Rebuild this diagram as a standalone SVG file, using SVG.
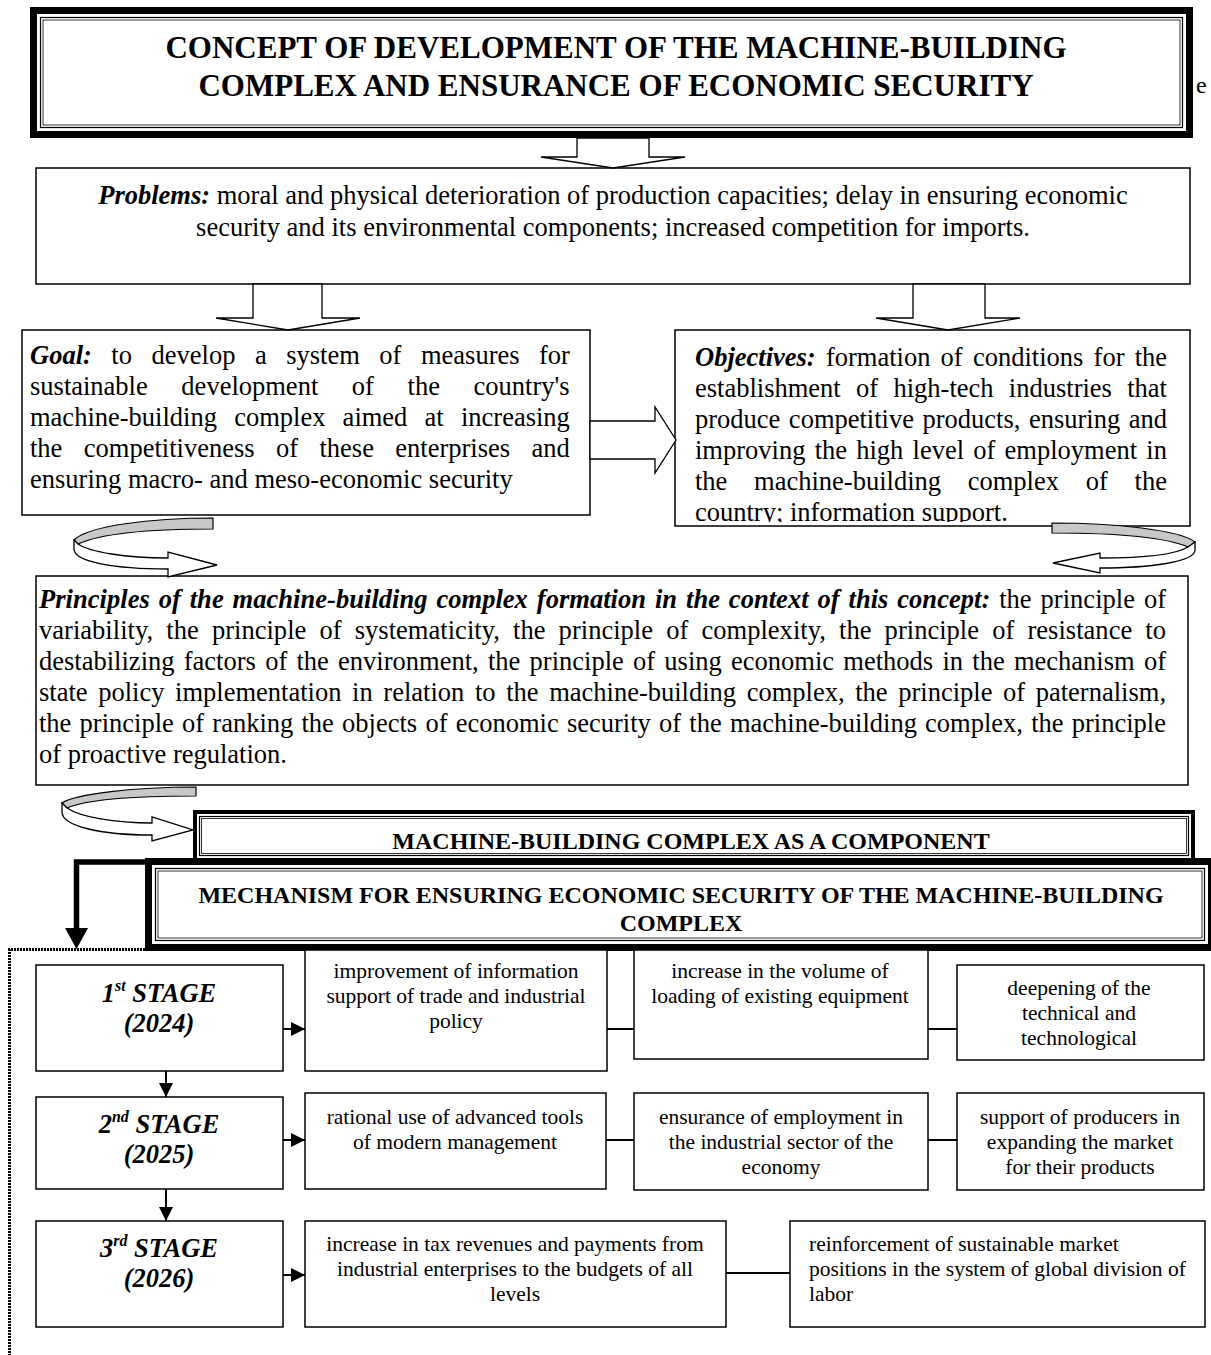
<svg xmlns="http://www.w3.org/2000/svg" width="1211" height="1355" viewBox="0 0 1211 1355">
<style>
text{font-family:"Liberation Serif","Times New Roman",serif;fill:#000}
.body{font-size:26.5px}
.sm{font-size:21.5px}
.bi{font-weight:bold;font-style:italic}
.b{font-weight:bold}
.box{fill:#fff;stroke:#000;stroke-width:1.5}
.blk{fill:#fff;stroke:#000;stroke-width:1.3;stroke-linejoin:miter}
.grey{fill:#c8c8c8;stroke:#000;stroke-width:1.2}
.thin{fill:none;stroke:#000;stroke-width:1.2}
.thin2{fill:none;stroke:#000;stroke-width:0.8}
.ln{stroke:#000;stroke-width:2;fill:none}
.mid{text-anchor:middle}
</style>
<defs>
<marker id="ah" viewBox="0 0 10 10" refX="10" refY="5" markerWidth="14" markerHeight="14" markerUnits="userSpaceOnUse" orient="auto">
<path d="M0,0 L10,5 L0,10 Z" fill="#000"/>
</marker>
<clipPath id="objclip"><rect x="675" y="330" width="515" height="192"/></clipPath>
</defs>

<g id="title">
<rect x="30" y="7" width="1163" height="131" fill="#000"/>
<rect x="37" y="14" width="1149" height="117" fill="#fff"/>
<rect class="thin" x="40.5" y="17.5" width="1142" height="110"/>
<rect class="thin2" x="43" y="20" width="1137" height="105"/>
<text class="b mid" x="616" y="58" font-size="31">CONCEPT OF DEVELOPMENT OF THE MACHINE-BUILDING</text>
<text class="b mid" x="616" y="96" font-size="31">COMPLEX AND ENSURANCE OF ECONOMIC SECURITY</text>
</g>
<text x="1196" y="93" font-size="24">e</text>

<g id="problems">
<rect class="box" x="36" y="168" width="1154" height="116"/>
<text class="body mid" x="613" y="204"><tspan class="bi">Problems:</tspan> moral and physical deterioration of production capacities; delay in ensuring economic</text>
<text class="body mid" x="613" y="236">security and its environmental components; increased competition for imports.</text>
</g>

<g id="goal">
<rect class="box" x="22" y="330" width="568" height="185"/>
<text class="body" x="30" y="364" word-spacing="12.9"><tspan class="bi">Goal:</tspan> to develop a system of measures for</text>
<text class="body" x="30" y="395" word-spacing="27">sustainable development of the country's</text>
<text class="body" x="30" y="426" word-spacing="10.6">machine-building complex aimed at increasing</text>
<text class="body" x="30" y="457" word-spacing="14.8">the competitiveness of these enterprises and</text>
<text class="body" x="30" y="488">ensuring macro- and meso-economic security</text>
</g>

<g id="objectives">
<rect class="box" x="675" y="330" width="515" height="196"/>
<g clip-path="url(#objclip)">
<text class="body" x="695" y="366" word-spacing="3.6"><tspan class="bi">Objectives:</tspan> formation of conditions for the</text>
<text class="body" x="695" y="397" word-spacing="8.7">establishment of high-tech industries that</text>
<text class="body" x="695" y="428" word-spacing="1.9">produce competitive products, ensuring and</text>
<text class="body" x="695" y="459" word-spacing="2.6">improving the high level of employment in</text>
<text class="body" x="695" y="490" word-spacing="20.1">the machine-building complex of the</text>
<text class="body" x="695" y="521">country; information support.</text>
</g>
</g>

<g id="principles">
<rect class="box" x="36" y="576" width="1152" height="209"/>
<text class="body" x="39" y="608" word-spacing="2.2" textLength="1127" lengthAdjust="spacing"><tspan class="bi">Principles of the machine-building complex formation in the context of this concept:</tspan> the principle of</text>
<text class="body" x="39" y="639" word-spacing="6.5" textLength="1127" lengthAdjust="spacing">variability, the principle of systematicity, the principle of complexity, the principle of resistance to</text>
<text class="body" x="39" y="670" word-spacing="2.6" textLength="1127" lengthAdjust="spacing">destabilizing factors of the environment, the principle of using economic methods in the mechanism of</text>
<text class="body" x="39" y="701" word-spacing="4" textLength="1127" lengthAdjust="spacing">state policy implementation in relation to the machine-building complex, the principle of paternalism,</text>
<text class="body" x="39" y="732" word-spacing="1.6" textLength="1127" lengthAdjust="spacing">the principle of ranking the objects of economic security of the machine-building complex, the principle</text>
<text class="body" x="39" y="763">of proactive regulation.</text>
</g>

<g id="mechanism">
<rect x="145" y="858" width="1070" height="93" fill="#000"/>
<rect x="152" y="865" width="1056" height="79" fill="#fff"/>
<rect class="thin" x="155.5" y="868.5" width="1049" height="72"/>
<rect class="thin2" x="158" y="871" width="1044" height="67"/>
<text class="b mid" x="681" y="903" font-size="24">MECHANISM FOR ENSURING ECONOMIC SECURITY OF THE MACHINE-BUILDING</text>
<text class="b mid" x="681" y="931" font-size="24">COMPLEX</text>
</g>

<g id="component">
<rect x="193" y="810" width="1002" height="52" fill="#000"/>
<rect x="197" y="814" width="994" height="44" fill="#fff"/>
<rect class="thin" x="199.5" y="816.5" width="989" height="39"/>
<rect class="thin2" x="201.5" y="818.5" width="985" height="35"/>
<text class="b mid" x="691" y="849" font-size="24">MACHINE-BUILDING COMPLEX AS A COMPONENT</text>
</g>

<g id="stage1">
<rect class="box" x="36" y="965" width="247" height="106"/>
<text class="body bi mid" x="159" y="1002">1<tspan font-size="16" dy="-11">st</tspan><tspan dy="11"> STAGE</tspan></text>
<text class="body bi mid" x="159" y="1032">(2024)</text>
</g>
<g id="s1a">
<rect class="box" x="305" y="950" width="302" height="121"/>
<text class="sm mid" x="456" y="978">improvement of information</text>
<text class="sm mid" x="456" y="1003">support of trade and industrial</text>
<text class="sm mid" x="456" y="1028">policy</text>
</g>
<g id="s1b">
<rect class="box" x="634" y="950" width="294" height="109"/>
<text class="sm mid" x="780" y="978">increase in the volume of</text>
<text class="sm mid" x="780" y="1003">loading of existing equipment</text>
</g>
<g id="s1c">
<rect class="box" x="957" y="965" width="247" height="95"/>
<text class="sm mid" x="1079" y="995">deepening of the</text>
<text class="sm mid" x="1079" y="1020">technical and</text>
<text class="sm mid" x="1079" y="1045">technological</text>
</g>

<g id="stage2">
<rect class="box" x="36" y="1097" width="247" height="92"/>
<text class="body bi mid" x="159" y="1133">2<tspan font-size="16" dy="-11">nd</tspan><tspan dy="11"> STAGE</tspan></text>
<text class="body bi mid" x="159" y="1163">(2025)</text>
</g>
<g id="s2a">
<rect class="box" x="305" y="1093" width="301" height="96"/>
<text class="sm mid" x="455" y="1124">rational use of advanced tools</text>
<text class="sm mid" x="455" y="1149">of modern management</text>
</g>
<g id="s2b">
<rect class="box" x="634" y="1093" width="294" height="97"/>
<text class="sm mid" x="781" y="1124">ensurance of employment in</text>
<text class="sm mid" x="781" y="1149">the industrial sector of the</text>
<text class="sm mid" x="781" y="1174">economy</text>
</g>
<g id="s2c">
<rect class="box" x="957" y="1093" width="247" height="97"/>
<text class="sm mid" x="1080" y="1124">support of producers in</text>
<text class="sm mid" x="1080" y="1149">expanding the market</text>
<text class="sm mid" x="1080" y="1174">for their products</text>
</g>

<g id="stage3">
<rect class="box" x="36" y="1221" width="247" height="106"/>
<text class="body bi mid" x="159" y="1257">3<tspan font-size="16" dy="-11">rd</tspan><tspan dy="11"> STAGE</tspan></text>
<text class="body bi mid" x="159" y="1287">(2026)</text>
</g>
<g id="s3a">
<rect class="box" x="305" y="1221" width="421" height="106"/>
<text class="sm mid" x="515" y="1251">increase in tax revenues and payments from</text>
<text class="sm mid" x="515" y="1276">industrial enterprises to the budgets of all</text>
<text class="sm mid" x="515" y="1301">levels</text>
</g>
<g id="s3b">
<rect class="box" x="790" y="1221" width="415" height="106"/>
<text class="sm" x="809" y="1251">reinforcement of sustainable market</text>
<text class="sm" x="809" y="1276">positions in the system of global division of</text>
<text class="sm" x="809" y="1301">labor</text>
</g>

<g id="connectors">
<polygon class="blk" points="577,138 649,138 649,157 685,157 613,168 541,157 577,157"/>
<polygon class="blk" points="253,284 322,284 322,318 360,318 288,330 216,318 253,318"/>
<polygon class="blk" points="913,284 985,284 985,318 1020,318 948,330 876,318 913,318"/>
<polygon class="blk" points="590,421 655,421 655,407 676,440 655,473 655,459 590,459"/>
<path class="grey" d="M213,518 C150,518 88,526 74,540 L78,544 C100,534 150,529 213,529 Z"/>
<path class="blk" d="M74,540 L78,544 C90,552 125,558 168,558 L168,552 L217,565 L168,577 L168,569 C115,569 74,562 74,549 Z"/>
<path class="grey" d="M1052,523 C1115,523 1180,530 1195,542 L1188,547 C1165,537 1110,533 1052,533 Z"/>
<path class="blk" d="M1195,542 L1188,547 C1175,555 1140,558 1100,558 L1100,553 L1053,563 L1100,573 L1100,568 C1150,568 1195,562 1195,550 Z"/>
<path class="grey" d="M196,787 C135,787 75,794 62,803 L67,808 C85,800 135,796 196,796 Z"/>
<path class="blk" d="M62,803 L67,808 C80,817 115,823 152,823 L152,817 L193,830 L152,841 L152,835 C100,835 62,826 62,812 Z"/>
<path d="M148,862 H76.5 V930" fill="none" stroke="#000" stroke-width="5.5"/>
<polygon points="65,928 88,928 76.5,949" fill="#000"/>
<path d="M145,949.5 H9.5 V1360" fill="none" stroke="#000" stroke-width="3" stroke-dasharray="2 1"/>
<line class="ln" x1="283" y1="1029" x2="305" y2="1029" marker-end="url(#ah)"/>
<line class="ln" x1="283" y1="1140" x2="305" y2="1140" marker-end="url(#ah)"/>
<line class="ln" x1="283" y1="1275" x2="305" y2="1275" marker-end="url(#ah)"/>
<line class="ln" x1="166" y1="1071" x2="166" y2="1097" marker-end="url(#ah)"/>
<line class="ln" x1="166" y1="1189" x2="166" y2="1221" marker-end="url(#ah)"/>
<line class="ln" x1="607" y1="1029" x2="634" y2="1029"/>
<line class="ln" x1="928" y1="1029" x2="957" y2="1029"/>
<line class="ln" x1="606" y1="1140" x2="634" y2="1140"/>
<line class="ln" x1="928" y1="1140" x2="957" y2="1140"/>
<line class="ln" x1="726" y1="1273" x2="790" y2="1273"/>
</g>
</svg>
